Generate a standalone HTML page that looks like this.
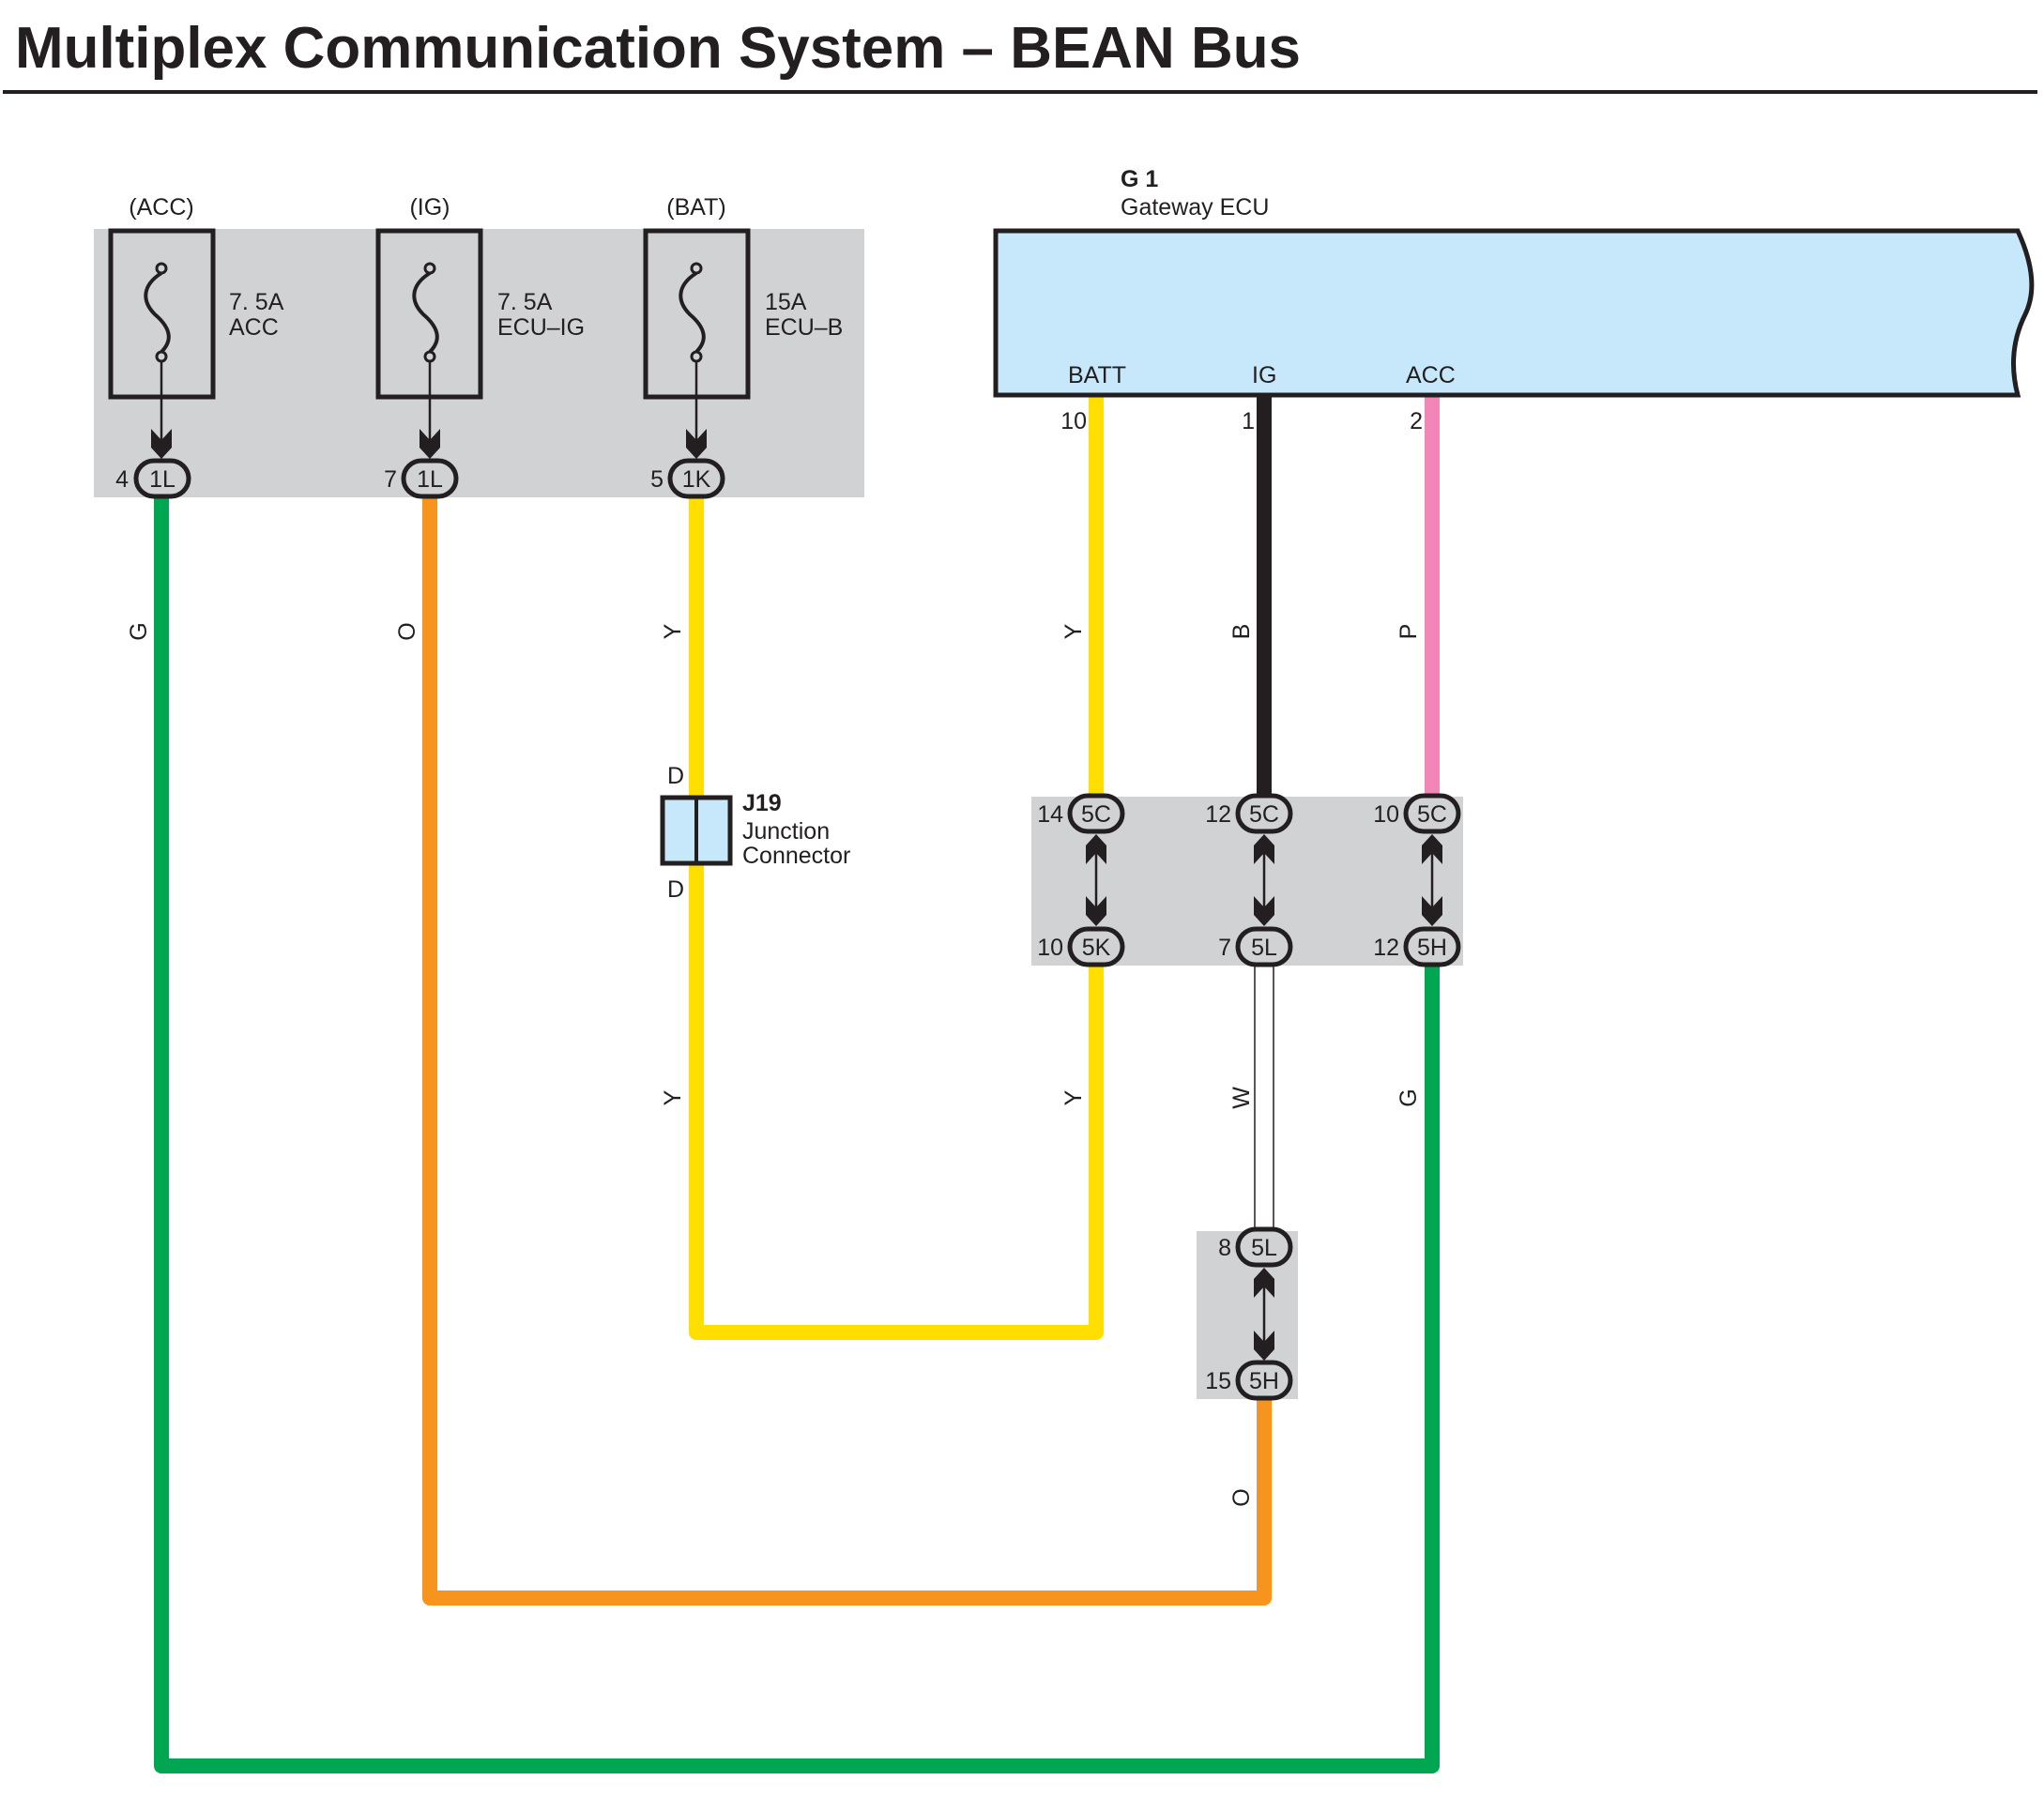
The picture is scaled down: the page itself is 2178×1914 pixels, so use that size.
<!DOCTYPE html>
<html><head><meta charset="utf-8"><style>
html,body{margin:0;padding:0;background:#fff}
svg{display:block}
text{font-family:"Liberation Sans",sans-serif;fill:#231f20}
</style></head><body>
<svg width="2178" height="1914" viewBox="0 0 2178 1914" xmlns="http://www.w3.org/2000/svg">
<defs>
<g id="ah"><polygon points="-11,-32 0,-20 11,-32 11,-12 0,0 -11,-12" fill="#231f20"/></g>
</defs>
<text x="16" y="72" font-size="62" font-weight="bold" textLength="1370" lengthAdjust="spacingAndGlyphs">Multiplex Communication System – BEAN Bus</text>
<rect x="3" y="96" width="2168" height="4" fill="#231f20"/>

<rect x="100" y="244" width="821" height="286" fill="#d1d2d4"/>
<rect x="1099" y="849" width="460" height="180" fill="#d1d2d4"/>
<rect x="1275" y="1312" width="108" height="179" fill="#d1d2d4"/>

<g fill="none" stroke-linejoin="round" stroke-linecap="round">
<polyline points="172,530 172,1882 1526,1882 1526,1029" stroke="#00a651" stroke-width="16"/>
<polyline points="458,530 458,1703 1347,1703 1347,1491" stroke="#f7941d" stroke-width="16"/>
<polyline points="742,530 742,1420 1168,1420 1168,1029" stroke="#ffde00" stroke-width="16"/>
<line x1="1168" y1="423" x2="1168" y2="849" stroke="#ffde00" stroke-width="16" stroke-linecap="butt"/>
<line x1="1347" y1="423" x2="1347" y2="849" stroke="#231f20" stroke-width="16" stroke-linecap="butt"/>
<line x1="1526" y1="423" x2="1526" y2="849" stroke="#f287b7" stroke-width="16" stroke-linecap="butt"/>
<rect x="1337" y="1029" width="20" height="283" fill="#fff" stroke="#231f20" stroke-width="1.5"/>
</g>

<path d="M1061,246 L2150,246 Q2175,300 2158,335 Q2138,375 2150,421 L1061,421 Z" fill="#c7e8fa" stroke="#231f20" stroke-width="5"/>
<text x="1194" y="199" font-size="25" font-weight="bold">G 1</text>
<text x="1194" y="229" font-size="25">Gateway ECU</text>
<text x="1138" y="408" font-size="25">BATT</text>
<text x="1334" y="408" font-size="25">IG</text>
<text x="1498" y="408" font-size="25">ACC</text>
<text x="1158" y="457" font-size="25" text-anchor="end">10</text>
<text x="1337" y="457" font-size="25" text-anchor="end">1</text>
<text x="1516" y="457" font-size="25" text-anchor="end">2</text>

<g font-size="25">
<text x="172" y="229" text-anchor="middle">(ACC)</text>
<text x="458" y="229" text-anchor="middle">(IG)</text>
<text x="742" y="229" text-anchor="middle">(BAT)</text>
<text x="244" y="330">7. 5A</text><text x="244" y="357">ACC</text>
<text x="530" y="330">7. 5A</text><text x="530" y="357">ECU–IG</text>
<text x="815" y="330">15A</text><text x="815" y="357">ECU–B</text>
</g>
<g fill="none" stroke="#231f20">
<rect x="118" y="246" width="109" height="177" stroke-width="5"/>
<rect x="403" y="246" width="109" height="177" stroke-width="5"/>
<rect x="688" y="246" width="109" height="177" stroke-width="5"/>
</g>
<g id="fz" fill="none" stroke="#231f20">
<path d="M172,291 C150,305 152,322 165,335 C185,352 182,365 172,375" stroke-width="4"/>
<circle cx="172" cy="286" r="5" stroke-width="3" fill="#d1d2d4"/>
<circle cx="172" cy="380" r="5" stroke-width="3" fill="#d1d2d4"/>
<line x1="172" y1="385" x2="172" y2="480" stroke-width="2.5"/>
</g>
<use href="#fz" x="286"/><use href="#fz" x="570"/>
<use href="#ah" x="172" y="489"/><use href="#ah" x="458" y="489"/><use href="#ah" x="742" y="489"/>

<g stroke="#231f20" stroke-width="5" fill="#d1d2d4">
<rect x="145" y="491" width="56" height="38" rx="19"/>
<rect x="430" y="491" width="56" height="38" rx="19"/>
<rect x="714" y="491" width="56" height="38" rx="19"/>
<rect x="1140" y="848" width="56" height="38" rx="19"/>
<rect x="1319" y="848" width="56" height="38" rx="19"/>
<rect x="1498" y="848" width="56" height="38" rx="19"/>
<rect x="1140" y="990" width="56" height="38" rx="19"/>
<rect x="1319" y="990" width="56" height="38" rx="19"/>
<rect x="1498" y="990" width="56" height="38" rx="19"/>
<rect x="1319" y="1310" width="56" height="38" rx="19"/>
<rect x="1319" y="1452" width="56" height="38" rx="19"/>
</g>
<g font-size="25" text-anchor="middle">
<text x="173" y="519">1L</text><text x="458" y="519">1L</text><text x="742" y="519">1K</text>
<text x="1168" y="876">5C</text><text x="1347" y="876">5C</text><text x="1526" y="876">5C</text>
<text x="1168" y="1018">5K</text><text x="1347" y="1018">5L</text><text x="1526" y="1018">5H</text>
<text x="1347" y="1338">5L</text><text x="1347" y="1480">5H</text>
</g>
<g font-size="25" text-anchor="end">
<text x="137" y="519">4</text><text x="423" y="519">7</text><text x="707" y="519">5</text>
<text x="1133" y="876">14</text><text x="1312" y="876">12</text><text x="1491" y="876">10</text>
<text x="1133" y="1018">10</text><text x="1312" y="1018">7</text><text x="1491" y="1018">12</text>
<text x="1312" y="1338">8</text><text x="1312" y="1480">15</text>
</g>

<g stroke="#231f20" stroke-width="2.5">
<line x1="1168" y1="895" x2="1168" y2="980"/>
<line x1="1347" y1="895" x2="1347" y2="980"/>
<line x1="1526" y1="895" x2="1526" y2="980"/>
<line x1="1347" y1="1357" x2="1347" y2="1443"/>
</g>
<g>
<use href="#ah" x="1168" y="987"/><use href="#ah" x="1347" y="987"/><use href="#ah" x="1526" y="987"/>
<use href="#ah" transform="translate(1168,889) rotate(180)"/>
<use href="#ah" transform="translate(1347,889) rotate(180)"/>
<use href="#ah" transform="translate(1526,889) rotate(180)"/>
<use href="#ah" x="1347" y="1450"/>
<use href="#ah" transform="translate(1347,1351) rotate(180)"/>
</g>

<rect x="706" y="850" width="72" height="70" fill="#c7e8fa" stroke="#231f20" stroke-width="5"/>
<line x1="742" y1="850" x2="742" y2="920" stroke="#231f20" stroke-width="4"/>
<text x="720" y="835" font-size="25" text-anchor="middle">D</text>
<text x="720" y="956" font-size="25" text-anchor="middle">D</text>
<text x="791" y="864" font-size="25" font-weight="bold">J19</text>
<text x="791" y="894" font-size="25">Junction</text>
<text x="791" y="920" font-size="25">Connector</text>

<g font-size="25" text-anchor="middle">
<text transform="translate(156,673) rotate(-90)">G</text>
<text transform="translate(442,673) rotate(-90)">O</text>
<text transform="translate(725,673) rotate(-90)">Y</text>
<text transform="translate(1152,673) rotate(-90)">Y</text>
<text transform="translate(1331,673) rotate(-90)">B</text>
<text transform="translate(1509,673) rotate(-90)">P</text>
<text transform="translate(725,1170) rotate(-90)">Y</text>
<text transform="translate(1152,1170) rotate(-90)">Y</text>
<text transform="translate(1331,1170) rotate(-90)">W</text>
<text transform="translate(1509,1170) rotate(-90)">G</text>
<text transform="translate(1331,1596) rotate(-90)">O</text>
</g>
</svg>
</body></html>
